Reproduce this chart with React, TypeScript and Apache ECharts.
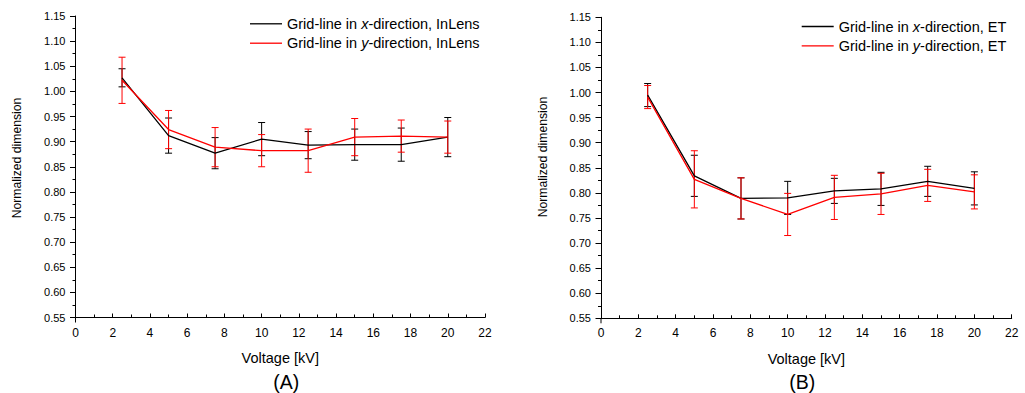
import React, { useEffect, useRef } from "react";
import * as echarts from "echarts";

const voltages = [2.5, 5, 7.5, 10, 12.5, 15, 17.5, 20];

const inlensX = [1.027, 0.912, 0.877, 0.905, 0.893, 0.894, 0.894, 0.909];
const inlensXErr = [0.018, 0.035, 0.031, 0.033, 0.027, 0.031, 0.033, 0.039];
const inlensY = [1.022, 0.924, 0.889, 0.882, 0.882, 0.909, 0.911, 0.909];
const inlensYErr = [0.046, 0.038, 0.039, 0.032, 0.043, 0.037, 0.032, 0.032];

const etX = [0.995, 0.834, 0.789, 0.790, 0.804, 0.808, 0.823, 0.809];
const etXErr = [0.023, 0.041, 0.041, 0.033, 0.025, 0.033, 0.030, 0.033];
const etY = [0.991, 0.827, 0.789, 0.757, 0.791, 0.798, 0.815, 0.802];
const etYErr = [0.023, 0.057, 0.041, 0.042, 0.044, 0.041, 0.032, 0.034];

const seriesNames = [
  "Grid-line in x-direction, InLens",
  "Grid-line in y-direction, InLens",
  "Grid-line in x-direction, ET",
  "Grid-line in y-direction, ET",
];
const panelLabels = ["(A)", "(B)"];
const xAxisName = "Voltage [kV]";
const yAxisName = "Normalized dimension";

const FONT = 'Arial, "Liberation Sans", sans-serif';

function lineData(vals: number[]) {
  return voltages.map((v, i) => [v, vals[i]]);
}
function errData(vals: number[], errs: number[]) {
  return voltages.map((v, i) => [v, vals[i] - errs[i], vals[i] + errs[i]]);
}

function errorSeries(data: number[][], color: string, idx: number) {
  return {
    type: "custom",
    xAxisIndex: idx,
    yAxisIndex: idx,
    encode: { x: 0, y: [1, 2] },
    data,
    silent: true,
    renderItem: (params: any, api: any) => {
      const x = api.value(0);
      const lo = api.coord([x, api.value(1)]);
      const hi = api.coord([x, api.value(2)]);
      const w = 3.5;
      const st = { stroke: color, lineWidth: 1 };
      return {
        type: "group",
        children: [
          { type: "line", shape: { x1: lo[0], y1: lo[1], x2: hi[0], y2: hi[1] }, style: st },
          { type: "line", shape: { x1: lo[0] - w, y1: lo[1], x2: lo[0] + w, y2: lo[1] }, style: st },
          { type: "line", shape: { x1: hi[0] - w, y1: hi[1], x2: hi[0] + w, y2: hi[1] }, style: st },
        ],
      };
    },
  };
}

function lineSeries(name: string, vals: number[], color: string, idx: number) {
  return {
    type: "line",
    name,
    xAxisIndex: idx,
    yAxisIndex: idx,
    data: lineData(vals),
    symbol: "none",
    showSymbol: false,
    lineStyle: { color, width: 1.3 },
    itemStyle: { color },
    z: 3,
  };
}

function xAxis(idx: number) {
  return {
    type: "value",
    gridIndex: idx,
    min: 0,
    max: 22,
    interval: 2,
    name: xAxisName,
    nameLocation: "middle",
    nameGap: 33,
    nameTextStyle: { fontSize: 14.5, color: "#000", fontFamily: FONT },
    axisLine: { show: true, lineStyle: { color: "#000", width: 1 } },
    axisTick: { show: true, inside: true, length: 4, lineStyle: { color: "#000" } },
    minorTick: { show: true, splitNumber: 2, length: 3, lineStyle: { color: "#000" } },
    splitLine: { show: false },
    axisLabel: { fontSize: 12, color: "#000", fontFamily: FONT, margin: 9 },
  };
}

function yAxis(idx: number) {
  return {
    type: "value",
    gridIndex: idx,
    min: 0.55,
    max: 1.15,
    interval: 0.05,
    axisLine: { show: true, lineStyle: { color: "#000", width: 1 } },
    axisTick: { show: true, length: 5.5, lineStyle: { color: "#000" } },
    minorTick: { show: true, splitNumber: 2, length: 3, lineStyle: { color: "#000" } },
    splitLine: { show: false },
    axisLabel: {
      fontSize: 11,
      color: "#000",
      fontFamily: FONT,
      margin: 10,
      formatter: (v: number) => v.toFixed(2),
    },
  };
}

function legend(names: string[], left: number, top: number) {
  return {
    data: names,
    orient: "vertical",
    left,
    top,
    itemWidth: 32,
    itemHeight: 14,
    itemGap: 4.4,
    padding: 0,
    selectedMode: false,
    icon: "path://M0,0L32,0L32,1.3L0,1.3Z",
    formatter: (n: string) => n.replace(/ (x|y)-/, " {i|$1}-"),
    textStyle: {
      fontSize: 14.5,
      color: "#000",
      fontFamily: FONT,
      lineHeight: 14,
      rich: { i: { fontStyle: "italic", fontSize: 14.5, color: "#000", fontFamily: FONT } },
    },
  };
}

function txt(text: string, x: number, y: number, size: number, rot = 0) {
  return {
    type: "text",
    x,
    y,
    rotation: rot,
    style: {
      text,
      fontSize: size,
      fontFamily: FONT,
      fill: "#000",
      align: "center",
      verticalAlign: "middle",
    },
  };
}

export default function App() {
  const ref = useRef<HTMLDivElement>(null);
  useEffect(() => {
    if (!ref.current) return;
    const chart = echarts.init(ref.current, undefined, { renderer: "svg" });
    chart.setOption({
      animation: false,
      backgroundColor: "#fff",
      grid: [
        { left: 75.5, top: 16, width: 409.5, height: 301.5 },
        { left: 601, top: 17.3, width: 410.7, height: 301 },
      ],
      xAxis: [xAxis(0), xAxis(1)],
      yAxis: [yAxis(0), yAxis(1)],
      legend: [
        legend([seriesNames[0], seriesNames[1]], 250, 16.3),
        legend([seriesNames[2], seriesNames[3]], 801.7, 19),
      ],
      graphic: [
        txt(panelLabels[0], 286.3, 381.7, 19.5),
        txt(panelLabels[1], 802.2, 381.7, 19.5),
        txt(yAxisName, 16.5, 158, 12.2, Math.PI / 2),
        txt(yAxisName, 543, 157, 12.2, Math.PI / 2),
        { type: "line", shape: { x1: 75.5, y1: 317.5, x2: 75.5, y2: 322.5 }, style: { stroke: "#000", lineWidth: 1 } },
        { type: "line", shape: { x1: 601, y1: 318.3, x2: 601, y2: 323.3 }, style: { stroke: "#000", lineWidth: 1 } },
      ],
      series: [
        errorSeries(errData(inlensX, inlensXErr), "#000", 0),
        errorSeries(errData(inlensY, inlensYErr), "#ff0000", 0),
        lineSeries(seriesNames[0], inlensX, "#000", 0),
        lineSeries(seriesNames[1], inlensY, "#ff0000", 0),
        errorSeries(errData(etX, etXErr), "#000", 1),
        errorSeries(errData(etY, etYErr), "#ff0000", 1),
        lineSeries(seriesNames[2], etX, "#000", 1),
        lineSeries(seriesNames[3], etY, "#ff0000", 1),
      ],
    });
    return () => chart.dispose();
  }, []);
  return (
    <div
      ref={ref}
      style={{ position: "absolute", left: 0, top: 0, width: 1025, height: 393 }}
    />
  );
}
